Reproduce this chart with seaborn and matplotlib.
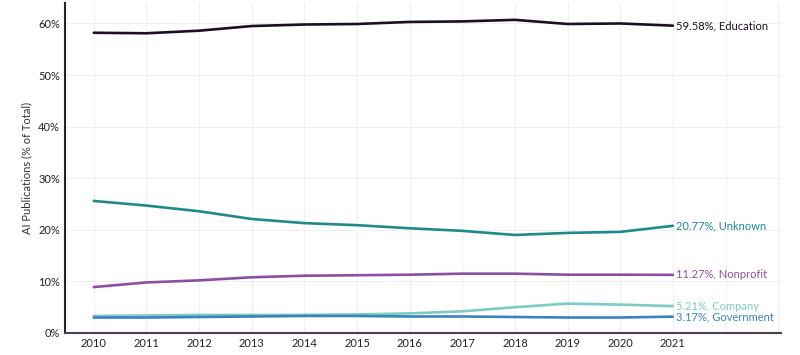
import pandas as pd
import matplotlib
matplotlib.use("Agg")
import matplotlib.pyplot as plt
import seaborn as sns
from matplotlib.ticker import PercentFormatter

# Data
years = list(range(2010, 2022))
education = [58.2, 58.1, 58.6, 59.5, 59.8, 59.9, 60.3, 60.4, 60.7, 59.9, 60.0, 59.58]
unknown = [25.6, 24.7, 23.6, 22.1, 21.3, 20.9, 20.3, 19.8, 19.0, 19.4, 19.6, 20.77]
nonprofit = [8.9, 9.8, 10.2, 10.8, 11.1, 11.2, 11.3, 11.5, 11.5, 11.3, 11.3, 11.27]
company = [3.3, 3.4, 3.5, 3.5, 3.5, 3.6, 3.8, 4.2, 5.0, 5.7, 5.5, 5.21]
government = [3.0, 3.0, 3.1, 3.2, 3.3, 3.3, 3.2, 3.2, 3.1, 3.0, 3.0, 3.17]

sectors = ["Education", "Unknown", "Nonprofit", "Company", "Government"]
colors = ["#1c1020", "#1e8a8c", "#8b4f9f", "#7dcdbf", "#3a82c2"]

# Long format for seaborn
df = pd.DataFrame({
    "year": years * 5,
    "value": education + unknown + nonprofit + company + government,
    "sector": [s for s in sectors for _ in years],
})

sns.set_style("white")
plt.rcParams["font.family"] = ["Lato", "DejaVu Sans"]

fig = plt.figure(figsize=(8, 3.55), dpi=100)
ax = fig.add_axes([0.081, 0.062, 0.895, 0.93])

sns.lineplot(data=df, x="year", y="value", hue="sector", palette=colors,
             linewidth=1.9, legend=False, ax=ax)

# End labels
for name, col in zip(sectors, colors):
    last = df[(df.sector == name) & (df.year == 2021)]["value"].iloc[0]
    ax.text(2021.05, last, f"{last:.2f}%, {name}", color=col, fontsize=8,
            va="center", ha="left")

ax.set_xlim(2009.45, 2023.05)
ax.set_ylim(0, 64)
ax.set_xticks(years)
ax.set_yticks(range(0, 61, 10))
ax.yaxis.set_major_formatter(PercentFormatter(decimals=0))
ax.set_xlabel("")
ax.set_ylabel("AI Publications (% of Total)", fontsize=8, color="#333333")
ax.tick_params(labelsize=8, colors="#222222", length=0)

ax.grid(True, color="#f0f0f0", linewidth=0.8)
ax.set_xticks(list(range(2010, 2024)), minor=False)
ax.set_xticklabels([str(y) if y <= 2021 else "" for y in range(2010, 2024)])
sns.despine(ax=ax)
ax.spines["left"].set_color("#2a2030")
ax.spines["bottom"].set_color("#4a4050")
ax.spines["left"].set_linewidth(1.5)
ax.spines["bottom"].set_linewidth(1.5)

fig.savefig("out.png", dpi=100)
